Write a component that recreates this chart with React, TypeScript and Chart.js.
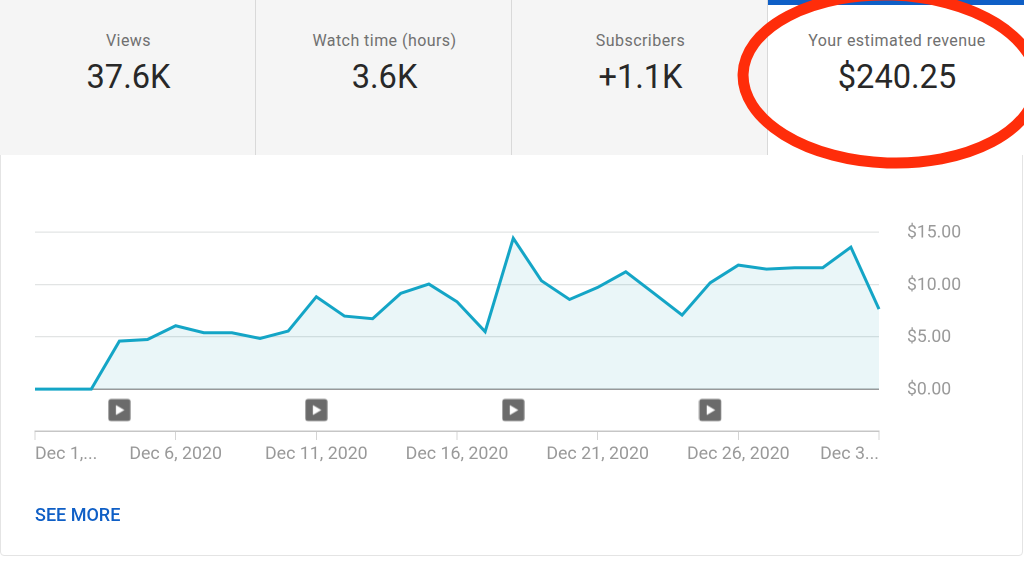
import React, { useEffect, useRef } from "react";
import { Chart, registerables } from "chart.js";

Chart.register(...registerables);

const days = Array.from({ length: 31 }, (_, i) => `Dec ${i + 1}`);
const revenue = [
  0, 0, 0, 4.58, 4.74, 6.05, 5.38, 5.38, 4.84, 5.54, 8.82, 6.97, 6.72, 9.14, 10.03, 8.34,
  5.48, 14.4, 10.35, 8.56, 9.71, 11.2, 9.15, 7.07, 10.15, 11.84, 11.46, 11.59, 11.59, 13.55, 7.64,
];
const playDays = [3, 10, 17, 24];
const playLevel = -2;
const xTickDays = [0, 5, 10, 15, 20, 25, 30];
const xTickLabels = ["Dec 1,...", "Dec 6, 2020", "Dec 11, 2020", "Dec 16, 2020", "Dec 21, 2020", "Dec 26, 2020", "Dec 3..."];
const yTickValues = [0, 5, 10, 15];
const yTickLabels = ["$0.00", "$5.00", "$10.00", "$15.00"];
const metrics = [
  { label: "Views", value: "37.6K" },
  { label: "Watch time (hours)", value: "3.6K" },
  { label: "Subscribers", value: "+1.1K" },
  { label: "Your estimated revenue", value: "$240.25" },
];

function makePlayIcon(): HTMLCanvasElement {
  const size = 23;
  const c = document.createElement("canvas");
  c.width = size;
  c.height = size;
  const g = c.getContext("2d")!;
  g.fillStyle = "#6b6b6b";
  g.beginPath();
  g.roundRect(0.5, 0.5, 22, 22, 2.5);
  g.fill();
  g.fillStyle = "#ffffff";
  g.beginPath();
  g.moveTo(8, 6.5);
  g.lineTo(16.5, 11.5);
  g.lineTo(8, 16.5);
  g.closePath();
  g.fill();
  return c;
}

export default function App() {
  const ref = useRef<HTMLCanvasElement>(null);

  useEffect(() => {
    const icon = makePlayIcon();
    const chart = new Chart(ref.current!, {
      type: "line",
      data: {
        labels: days,
        datasets: [
          {
            data: revenue,
            borderColor: "#14a5c6",
            borderWidth: 3,
            backgroundColor: "rgba(20,155,175,0.09)",
            fill: { value: 0 },
            pointRadius: 0,
            tension: 0,
            borderJoinStyle: "miter",
          },
          {
            data: playDays.map((d) => ({ x: days[d], y: playLevel })),
            showLine: false,
            pointStyle: icon,
            pointRadius: 11,
            clip: false,
          },
        ],
      } as any,
      options: {
        animation: false,
        responsive: false,
        devicePixelRatio: 2,
        layout: { padding: { left: 35, top: 77, right: 0, bottom: 0 } },
        plugins: { legend: { display: false }, tooltip: { enabled: false } },
        scales: {
          x: {
            type: "category",
            offset: false,
            afterBuildTicks: (s: any) => {
              s.ticks = xTickDays.map((v) => ({ value: v }));
            },
            afterFit: (s: any) => {
              s.height = 131;
            },
            border: { display: true, color: "#c6c6c6", width: 1.5 },
            grid: { drawOnChartArea: false, drawTicks: true, tickLength: 9, color: "#d4d4d4", lineWidth: 1 },
            ticks: {
              autoSkip: false,
              maxRotation: 0,
              minRotation: 0,
              align: "inner",
              padding: 4,
              color: "#999999",
              font: { family: "Roboto", size: 17.8 },
              callback: (_v: any, i: number) => xTickLabels[i],
            },
          },
          y: {
            position: "right",
            min: -4,
            max: 15,
            afterBuildTicks: (s: any) => {
              s.ticks = yTickValues.map((v) => ({ value: v }));
            },
            afterFit: (s: any) => {
              s.width = 145;
            },
            border: { display: false },
            grid: {
              drawTicks: false,
              color: (c: any) => (c.tick && c.tick.value === 0 ? "#9a9a9a" : "#e2e4e4"),
              lineWidth: (c: any) => (c.tick && c.tick.value === 0 ? 1.5 : 1.2),
            },
            ticks: {
              padding: 28,
              crossAlign: "near",
              labelOffset: 1,
              color: "#999999",
              font: { family: "Roboto", size: 17.6 },
              callback: (v: any) => yTickLabels[yTickValues.indexOf(Number(v))],
            },
          },
        },
      } as any,
    });
    return () => chart.destroy();
  }, []);

  return (
    <div
      style={{
        position: "fixed",
        left: 0,
        top: 0,
        width: 1024,
        height: 562,
        overflow: "hidden",
        background: "#ffffff",
        fontFamily: "Roboto, sans-serif",
      }}
    >
      <div
        style={{
          position: "absolute",
          left: 0,
          top: 0,
          width: 1021,
          height: 554,
          border: "1px solid #e4e4e4",
          borderRadius: 4,
        }}
      />
      {metrics.map((m, i) => {
        const active = i === metrics.length - 1;
        return (
          <div
            key={m.label}
            style={{
              position: "absolute",
              left: i * 256,
              top: 0,
              width: active ? 256 : 255,
              height: 155,
              background: active ? "#ffffff" : "#f5f5f5",
              borderRight: active ? "none" : "1px solid #d9d9d9",
              textAlign: "center",
            }}
          >
            {active && (
              <div style={{ position: "absolute", left: 0, top: 0, width: "100%", height: 5, background: "#0f5fc6" }} />
            )}
            <div
              style={{
                position: "absolute",
                left: 1,
                top: 31,
                width: "100%",
                fontSize: 16,
                lineHeight: "20px",
                letterSpacing: 0.45,
                fontWeight: 400,
                color: "#707070",
              }}
            >
              {m.label}
            </div>
            <div
              style={{
                position: "absolute",
                left: 1,
                top: 57,
                width: "100%",
                fontSize: 32.6,
                lineHeight: "40px",
                color: "#282828",
              }}
            >
              {m.value}
            </div>
          </div>
        );
      })}
      <canvas
        ref={ref}
        width={1024}
        height={407}
        style={{ position: "absolute", left: 0, top: 155, width: 1024, height: 407 }}
      />
      <div
        style={{
          position: "absolute",
          left: 35,
          top: 504,
          fontSize: 18,
          lineHeight: "22px",
          fontWeight: 500,
          color: "#0f5fc6",
        }}
      >
        SEE MORE
      </div>
      <svg width={1024} height={562} style={{ position: "absolute", left: 0, top: 0, pointerEvents: "none" }}>
        <ellipse
          cx={890}
          cy={79}
          rx={147}
          ry={84}
          fill="none"
          stroke="#ff2d0a"
          strokeWidth={11}
          transform="rotate(2 890 79)"
        />
      </svg>
    </div>
  );
}
